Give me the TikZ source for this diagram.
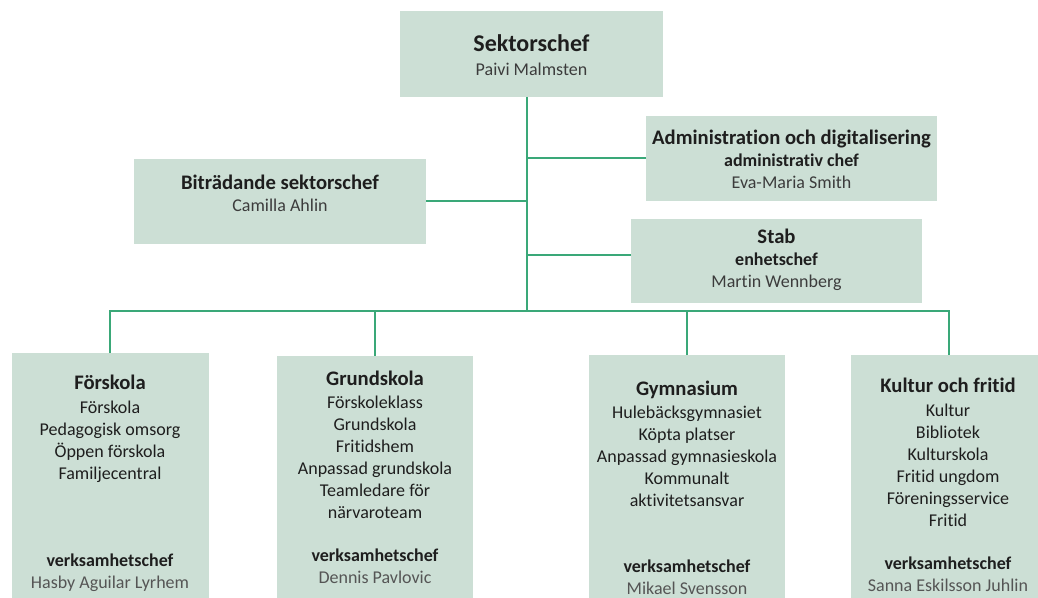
\documentclass[tikz,border=0pt]{standalone}
\usepackage{fontspec}
\setmainfont{Carlito}[Ligatures=NoCommon]
\usetikzlibrary{positioning}
\definecolor{unitfill}{HTML}{CCDFD5}
\definecolor{linkgreen}{HTML}{3AA878}
\definecolor{textblack}{HTML}{1E1E1E}
\definecolor{namegrey}{HTML}{3C3C3C}
\definecolor{leadgrey}{HTML}{555555}
\tikzstyle{unit}=[fill=unitfill, inner sep=0, outer sep=0]
\tikzstyle{unittext}=[align=center, text=textblack, font=\fontsize{13.5}{16.5}\selectfont, inner sep=0]
\tikzstyle{link}=[draw=linkgreen, line width=1.5pt]
\newcommand{\topfont}{\fontsize{18}{20}\selectfont\bfseries}
\newcommand{\headfont}{\fontsize{15.5}{17}\selectfont\bfseries}
\newcommand{\rolefont}{\fontsize{13.5}{16}\selectfont\bfseries}

\begin{document}
\begin{tikzpicture}[x=0.75pt, y=-0.75pt]
      \useasboundingbox (0, 0) rectangle (1038, 598);
      \clip (0, 0) rectangle (1038, 598);

      % top level
      \node[unit, minimum width=197.25pt, minimum height=64.5pt] (sektor) at (531.5, 54) {};
      \node[unittext] (sektor-text) at (531.5, 55) {{\topfont Sektorschef}\\[1pt] {\color{namegrey}Paivi Malmsten}};

      \node[unit, minimum width=219pt, minimum height=63.75pt] (bitr) at (280, 201.5) {};
      \node[unittext] (bitr-text) at (280, 193) {{\headfont Biträdande sektorschef}\\ {\color{namegrey}Camilla Ahlin}};

      \node[unit, minimum width=218.25pt, minimum height=63.75pt] (admin) at (791.5, 158.5) {};
      \node[unittext] (admin-text) at (791.5, 159) {{\headfont Administration och digitalisering}\\ {\rolefont administrativ chef}\\ {\color{namegrey}Eva-Maria Smith}};

      \node[unit, minimum width=218.25pt, minimum height=63pt] (stab) at (776.5, 261) {};
      \node[unittext] (stab-text) at (776.5, 260) {{\headfont Stab}\\ {\rolefont enhetschef}\\ {\color{namegrey}Martin Wennberg}};

      % verksamheter
      \node[unit, minimum width=147.75pt, minimum height=200pt] (forskola) at (110, 486.5) {};
      \node[unittext] (forskola-text) at (110, 483) {{\headfont Förskola}\\[1.5pt] Förskola\\ Pedagogisk omsorg\\ Öppen förskola\\ Familjecentral\\[48.75pt] {\rolefont verksamhetschef}\\ {\color{leadgrey}Hasby Aguilar Lyrhem}};

      \node[unit, minimum width=147pt, minimum height=198pt] (grund) at (375, 488) {};
      \node[unittext] (grund-text) at (375, 477.5) {{\headfont Grundskola}\\[0.75pt] Förskoleklass\\ Grundskola\\ Fritidshem\\ Anpassad grundskola\\ Teamledare för\\ närvaroteam\\[15.75pt] {\rolefont verksamhetschef}\\ {\color{leadgrey}Dennis Pavlovic}};

      \node[unit, minimum width=147pt, minimum height=198.75pt] (gymn) at (687, 487.5) {};
      \node[unittext] (gymn-text) at (687, 487.5) {{\headfont Gymnasium}\\[0.75pt] Hulebäcksgymnasiet\\ Köpta platser\\ Anpassad gymnasieskola\\ Kommunalt\\ aktivitetsansvar\\[33pt] {\rolefont verksamhetschef}\\ {\color{leadgrey}Mikael Svensson}};

      \node[unit, minimum width=147pt, minimum height=198.75pt] (kultur) at (949, 487.5) {};
      \node[unittext] (kultur-text) at (948, 484.5) {{\headfont Kultur och fritid}\\[1.5pt] Kultur\\ Bibliotek\\ Kulturskola\\ Fritid ungdom\\ Föreningsservice\\ Fritid\\[15.75pt] {\rolefont verksamhetschef}\\ {\color{leadgrey}Sanna Eskilsson Juhlin}};

      % connectors
      \coordinate (hub) at (527, 311);
      \draw[link] (sektor.south -| hub) -- (hub);
      \draw[link] (admin.west) -- (admin.west -| hub);
      \draw[link] (bitr.east) -- (bitr.east -| hub);
      \draw[link] ([yshift=4.5pt]stab.west) -- ([yshift=4.5pt]stab.west -| hub);
      \draw[link] (forskola.north) -- (forskola.north |- hub) -- (kultur.north |- hub) -- (kultur.north);
      \draw[link] (grund.north) -- (grund.north |- hub);
      \draw[link] (gymn.north) -- (gymn.north |- hub);
    \end{tikzpicture}
\end{document}
